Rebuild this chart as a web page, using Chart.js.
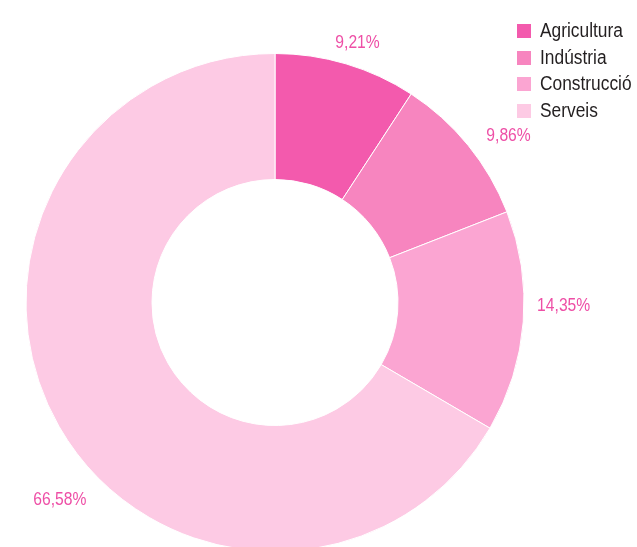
<!DOCTYPE html>
<html>
<head>
<meta charset="utf-8">
<script src="https://cdn.jsdelivr.net/npm/chart.js@4.4.0/dist/chart.umd.min.js"></script>
<style>
  html, body { margin: 0; padding: 0; background: #fff; }
  #wrap { position: relative; width: 637px; height: 547px; overflow: hidden; }
  #legend { position: absolute; left: 517px; top: 17px; margin: 0; padding: 0; list-style: none;
            font-family: 'Liberation Sans', Arial, sans-serif; font-size: 19.5px; color: #231f20; }
  #legend li { height: 26.5px; line-height: 26px; white-space: nowrap; }
  #legend .sq { display: inline-block; width: 14px; height: 14px; margin-right: 9px; vertical-align: -1px; }
  #legend .tx { display: inline-block; transform: scaleX(0.89); transform-origin: left center; }
</style>
</head>
<body>
<div id="wrap">
  <canvas id="pieChart" width="637" height="547"></canvas>
  <ul id="legend"></ul>
</div>
<script>
// dades
const sectors = ['Agricultura', 'Indústria', 'Construcció', 'Serveis'];
const percentatges = [9.21, 9.86, 14.35, 66.58];
const etiquetes = ['9,21%', '9,86%', '14,35%', '66,58%'];
const colors = ['#f35aad', '#f785bf', '#fba5d2', '#fdcae4'];

// llegenda en html
const legend = document.getElementById('legend');
sectors.forEach((s, i) => {
  const li = document.createElement('li');
  li.innerHTML = `<span class="sq" style="background:${colors[i]}"></span><span class="tx">${s}</span>`;
  legend.appendChild(li);
});

// percentatges fora del donut
const outerLabels = {
  id: 'outerLabels',
  afterDatasetsDraw(chart, args, opts) {
    const ctx = chart.ctx;
    const arcs = chart.getDatasetMeta(0).data;
    arcs.forEach((arc, i) => {
      const p = arc.getProps(['x', 'y', 'startAngle', 'endAngle', 'outerRadius']);
      const mid = (p.startAngle + p.endAngle) / 2;
      const r = p.outerRadius + opts.distance;
      const n = opts.nudge[i] || [0, 0];
      ctx.save();
      ctx.translate(p.x + Math.cos(mid) * r + n[0], p.y + Math.sin(mid) * r + n[1]);
      ctx.scale(opts.stretch, 1);
      ctx.font = opts.font;
      ctx.fillStyle = opts.color;
      ctx.textAlign = 'center';
      ctx.textBaseline = 'middle';
      ctx.fillText(etiquetes[i], 0, 0);
      ctx.restore();
    });
  }
};

new Chart(document.getElementById('pieChart'), {
  type: 'doughnut',
  data: {
    labels: sectors,
    datasets: [{
      data: percentatges,
      backgroundColor: colors,
      borderColor: '#ffffff',
      borderWidth: 1,
      radius: 249,
      cutout: '49.4%'
    }]
  },
  options: {
    responsive: false,
    animation: false,
    layout: { padding: { top: 58, bottom: 0, left: 0, right: 87 } },
    plugins: {
      legend: { display: false },
      tooltip: { enabled: false },
      outerLabels: {
        font: "18px 'Liberation Sans', Arial, sans-serif",
        stretch: 0.87,
        color: '#ee4fa6',
        distance: 21,
        nudge: [[5.5, -0.7], [24, 4], [19.5, -17.4], [19, 62.8]]
      }
    }
  },
  plugins: [outerLabels]
});
</script>
</body>
</html>
